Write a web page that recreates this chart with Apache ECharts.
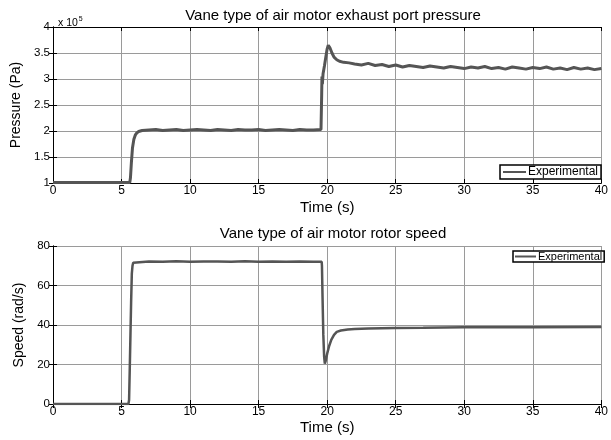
<!DOCTYPE html>
<html>
<head>
<meta charset="utf-8">
<script src="https://cdn.jsdelivr.net/npm/echarts@6/dist/echarts.min.js"></script>
<style>html,body{margin:0;padding:0;background:#fff}#c{width:611px;height:440px}</style>
</head>
<body>
<div id="c"></div>
<script>
// Time (s) and pressure (x 10^5 Pa)
var pressureTime = [0, 1, 2, 3, 4, 5, 5.6, 5.65, 5.72, 5.8, 5.9, 6.0, 6.1, 6.25, 6.5,
  7, 7.5, 8, 8.5, 9, 9.5, 10, 10.5, 11, 11.5, 12, 12.5, 13, 13.5, 14, 14.5, 15, 15.5, 16, 16.5,
  17, 17.5, 18, 18.5, 19, 19.55, 19.58, 19.6, 19.62, 19.65, 19.7, 19.8, 19.9, 20.0, 20.08, 20.2,
  20.35, 20.5, 20.7, 20.9, 21.2, 21.6, 22, 22.5, 23, 23.5, 24, 24.5, 25, 25.5, 26, 26.5, 27, 27.5,
  28, 28.5, 29, 29.5, 30, 30.5, 31, 31.5, 32, 32.5, 33, 33.5, 34, 34.5, 35, 35.5, 36, 36.5, 37,
  37.5, 38, 38.5, 39, 39.5, 40];
var pressureValues = [1.01, 1.01, 1.01, 1.01, 1.01, 1.01, 1.01, 1.1, 1.4, 1.68, 1.84, 1.92, 1.96, 1.99, 2.01,
  2.02, 2.03, 2.01, 2.02, 2.03, 2.01, 2.02, 2.03, 2.02, 2.01, 2.03, 2.02, 2.01, 2.03, 2.02, 2.02, 2.03, 2.01, 2.02, 2.03,
  2.02, 2.01, 2.03, 2.02, 2.02, 2.03, 2.03, 2.7, 3.05, 2.9, 3.1, 3.25, 3.42, 3.58, 3.65, 3.6,
  3.5, 3.42, 3.37, 3.34, 3.32, 3.31, 3.29, 3.27, 3.3, 3.26, 3.28, 3.24, 3.27, 3.23, 3.26, 3.24, 3.22, 3.25,
  3.23, 3.21, 3.24, 3.22, 3.2, 3.23, 3.21, 3.24, 3.2, 3.22, 3.19, 3.23, 3.21, 3.19, 3.22, 3.2, 3.23, 3.19, 3.21,
  3.18, 3.22, 3.19, 3.21, 3.18, 3.2];

// Time (s) and rotor speed (rad/s)
var speedTime = [0, 2, 4, 5.5, 5.55, 5.6, 5.65, 5.7, 5.75, 5.8, 5.85, 5.95, 7, 8, 9, 10, 11, 12, 13, 14, 15,
  16, 17, 18, 19, 19.6, 19.62, 19.66, 19.72, 19.78, 19.83, 19.9, 20.0, 20.15, 20.3, 20.5, 20.7, 21.0,
  21.5, 22, 23, 24, 25, 27, 30, 35, 40];
var speedValues = [0, 0, 0, 0, 2, 18, 35, 52, 66, 70, 71.5, 72, 72.2, 72, 72.3, 72, 72.2, 72.1, 72, 72.3, 72,
  72.2, 72, 72.1, 72, 72, 70, 55, 35, 24, 20.5, 22, 25.5, 29.5, 32.5, 35, 36.5, 37.2,
  37.7, 38, 38.2, 38.4, 38.5, 38.6, 38.8, 38.9, 39];

var xTicks = {min: 0, max: 40, interval: 5};
var pressureTicks = {min: 1, max: 4, interval: 0.5};
var speedTicks = {min: 0, max: 80, interval: 20};

function zip(a, b) { return a.map(function (v, i) { return [v, b[i]]; }); }

var FONT = 'Liberation Sans, Arial, sans-serif';
var lineCol = '#555555';

function mainX(gi, gap) {
  return {
    type: 'value', gridIndex: gi, min: xTicks.min, max: xTicks.max, interval: xTicks.interval,
    position: 'bottom',
    name: 'Time (s)', nameLocation: 'middle', nameGap: gap,
    nameTextStyle: {fontFamily: FONT, fontSize: 15, color: '#000'},
    axisLine: {show: true, lineStyle: {color: '#000', width: 1}},
    axisTick: {show: true, inside: true, length: 4, lineStyle: {color: '#000'}},
    axisLabel: {fontFamily: FONT, fontSize: 12, color: '#000', margin: 2},
    splitLine: {show: true, lineStyle: {color: '#9a9a9a', width: 1}}
  };
}
function topX(gi) {
  return {
    type: 'value', gridIndex: gi, min: xTicks.min, max: xTicks.max, interval: xTicks.interval,
    position: 'top',
    axisLine: {show: true, lineStyle: {color: '#000', width: 1}},
    axisTick: {show: true, inside: true, length: 4, lineStyle: {color: '#000'}},
    axisLabel: {show: false}, splitLine: {show: false}
  };
}
function mainY(gi, t, name, gap) {
  return {
    type: 'value', gridIndex: gi, min: t.min, max: t.max, interval: t.interval, position: 'left',
    name: name, nameLocation: 'middle', nameGap: gap, nameRotate: 90,
    nameTextStyle: {fontFamily: FONT, fontSize: 14, color: '#000'},
    axisLine: {show: true, lineStyle: {color: '#000', width: 1}},
    axisTick: {show: true, inside: true, length: 4, lineStyle: {color: '#000'}},
    axisLabel: {fontFamily: FONT, fontSize: 11.5, color: '#000', margin: 3},
    splitLine: {show: true, lineStyle: {color: '#9a9a9a', width: 1}}
  };
}
function rightY(gi, t) {
  return {
    type: 'value', gridIndex: gi, min: t.min, max: t.max, interval: t.interval, position: 'right',
    axisLine: {show: true, lineStyle: {color: '#000', width: 1}},
    axisTick: {show: true, inside: true, length: 4, lineStyle: {color: '#000'}},
    axisLabel: {show: false}, splitLine: {show: false}
  };
}

var chart = echarts.init(document.getElementById('c'), null, {renderer: 'canvas'});
chart.setOption({
  animation: false,
  backgroundColor: '#fff',
  title: [
    {text: 'Vane type of air motor exhaust port pressure', left: 328, top: 3, textAlign: 'center',
      textStyle: {fontFamily: FONT, fontSize: 15, fontWeight: 'normal', color: '#000'}},
    {text: 'Vane type of air motor rotor speed', left: 328, top: 221, textAlign: 'center',
      textStyle: {fontFamily: FONT, fontSize: 15, fontWeight: 'normal', color: '#000'}},
    {text: '{a|x 10}{b|5}', left: 53, top: 11,
      textStyle: {fontWeight: 'normal', rich: {
        a: {fontFamily: FONT, fontSize: 10.5, fontWeight: 'normal', color: '#000', verticalAlign: 'bottom'},
        b: {fontFamily: FONT, fontSize: 7, fontWeight: 'normal', color: '#000', verticalAlign: 'top', padding: [0, 0, 6, 1]}
      }}}
  ],
  grid: [
    {left: 53, top: 27, right: 5, height: 156},
    {left: 53, top: 246, right: 5, height: 158}
  ],
  xAxis: [mainX(0, 17), topX(0), mainX(1, 16), topX(1)],
  yAxis: [
    mainY(0, pressureTicks, 'Pressure (Pa)', 29), rightY(0, pressureTicks),
    mainY(1, speedTicks, 'Speed (rad/s)', 24), rightY(1, speedTicks)
  ],
  legend: [
    {data: ['Experimental'], left: 500, top: 165, orient: 'horizontal',
      backgroundColor: '#fff', borderColor: '#000', borderWidth: 1.5, borderRadius: 0,
      padding: [1, 3, 1, 3], itemGap: 2, itemWidth: 23, itemHeight: 2, icon: 'rect',
      selectedMode: false,
      textStyle: {fontFamily: FONT, fontSize: 12, color: '#000', padding: [0, 0, 0, -3]}},
    {data: ['Experimental'], left: 513, top: 251, orient: 'horizontal',
      backgroundColor: '#fff', borderColor: '#000', borderWidth: 1.5, borderRadius: 0,
      padding: [0, 2, 0, 2], itemGap: 2, itemWidth: 21, itemHeight: 2, icon: 'rect',
      selectedMode: false,
      textStyle: {fontFamily: FONT, fontSize: 11, color: '#000', padding: [0, 0, 0, -3]}}
  ],
  series: [
    {name: 'Experimental', type: 'line', xAxisIndex: 0, yAxisIndex: 0, showSymbol: false, symbol: 'none',
      data: zip(pressureTime, pressureValues), lineStyle: {color: lineCol, width: 3}, itemStyle: {color: lineCol}},
    {name: 'Experimental', type: 'line', xAxisIndex: 2, yAxisIndex: 2, showSymbol: false, symbol: 'none',
      data: zip(speedTime, speedValues), lineStyle: {color: lineCol, width: 2.5}, itemStyle: {color: lineCol}}
  ]
});
</script>
</body>
</html>
